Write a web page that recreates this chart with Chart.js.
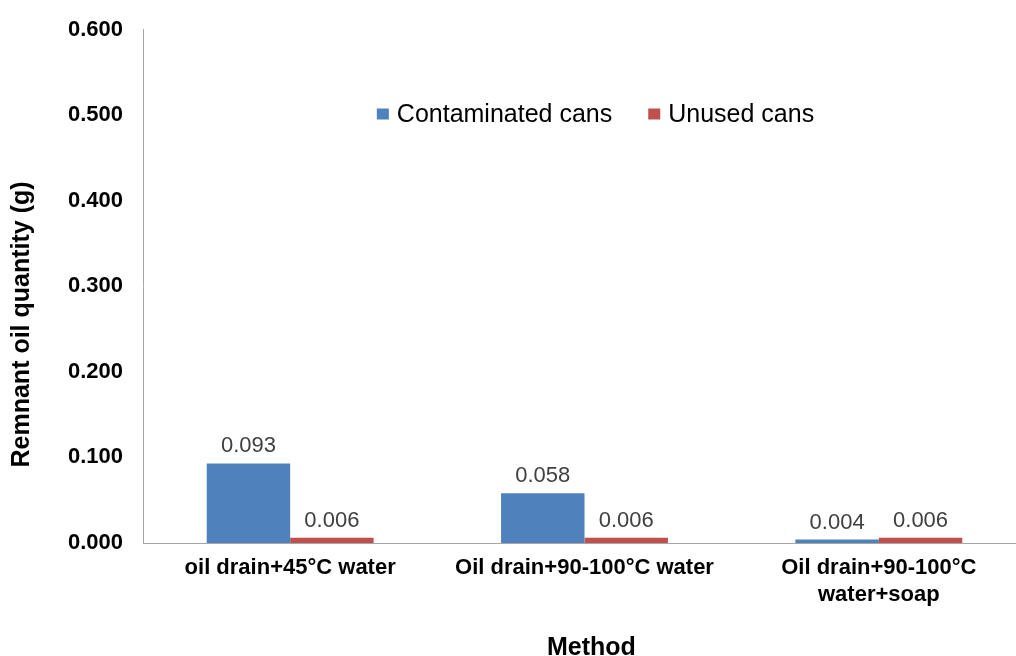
<!DOCTYPE html>
<html>
<head>
<meta charset="utf-8">
<script src="https://cdn.jsdelivr.net/npm/chart.js@4.4.1/dist/chart.umd.min.js"></script>
<style>
  html, body { margin: 0; padding: 0; background: #fff; overflow: hidden; width: 1016px; height: 656px; }
  #wrap { position: absolute; left: 0; top: 0; width: 1028px; height: 668px; }
</style>
</head>
<body>
<div id="wrap"><canvas id="chart" width="1028" height="668"></canvas></div>
<script>
// Cleaning methods on the category axis
const methods = [
  'oil drain+45°C water',
  'Oil drain+90-100°C water',
  ['Oil drain+90-100°C', 'water+soap']
];

// Remnant oil quantity (g) per method
const contaminatedCans = [0.093, 0.058, 0.004];
const unusedCans = [0.006, 0.006, 0.006];

const seriesNames = ['Contaminated cans', 'Unused cans'];
const yTickLabels = ['0.000', '0.100', '0.200', '0.300', '0.400', '0.500', '0.600'];

const FONT = '"Liberation Sans", Arial, sans-serif';
const BLUE = '#4F81BD';
const RED = '#C0504D';
const AXIS = '#A6A6A6';

// Value printed above each bar
const valueLabels = {
  id: 'valueLabels',
  afterDatasetsDraw(chart) {
    const ctx = chart.ctx;
    ctx.save();
    ctx.font = '22px ' + FONT;
    ctx.fillStyle = '#404040';
    ctx.textAlign = 'center';
    ctx.textBaseline = 'alphabetic';
    chart.data.datasets.forEach((ds, di) => {
      chart.getDatasetMeta(di).data.forEach((bar, i) => {
        ctx.fillText(ds.data[i].toFixed(3), bar.x, bar.y - 11);
      });
    });
    ctx.restore();
  }
};

// Legend drawn inside the plot area
const innerLegend = {
  id: 'innerLegend',
  afterDraw(chart) {
    const ctx = chart.ctx;
    const area = chart.chartArea;
    const box = 12, toText = 8, between = 36;
    ctx.save();
    ctx.font = '25px ' + FONT;
    const items = chart.data.datasets.map(ds => ({
      text: ds.label,
      color: ds.backgroundColor,
      w: box + toText + ctx.measureText(ds.label).width
    }));
    const total = items.reduce((s, it) => s + it.w, 0) + between * (items.length - 1);
    let x = (area.left + area.right) / 2 + 11 - total / 2;
    const baseline = area.top + 92;
    items.forEach(it => {
      ctx.fillStyle = it.color;
      ctx.fillRect(x, baseline - 13, box, 11);
      ctx.fillStyle = '#000';
      ctx.textAlign = 'left';
      ctx.textBaseline = 'alphabetic';
      ctx.fillText(it.text, x + box + toText, baseline);
      x += it.w + between;
    });
    ctx.restore();
  }
};

new Chart(document.getElementById('chart'), {
  type: 'bar',
  data: {
    labels: methods,
    datasets: [
      { label: seriesNames[0], data: contaminatedCans, backgroundColor: BLUE, borderWidth: 0 },
      { label: seriesNames[1], data: unusedCans, backgroundColor: RED, borderWidth: 0 }
    ]
  },
  options: {
    responsive: false,
    devicePixelRatio: 1,
    animation: false,
    events: [],
    layout: { padding: { top: 29.5, right: 2, bottom: 0, left: 0 } },
    datasets: { bar: { categoryPercentage: 0.567, barPercentage: 1.0 } },
    plugins: {
      legend: { display: false },
      tooltip: { enabled: false },
      title: { display: false }
    },
    scales: {
      x: {
        grid: { display: false, drawTicks: false },
        border: { display: true, color: AXIS, width: 1 },
        ticks: {
          font: { family: FONT, size: 22, weight: 'bold' },
          color: '#000',
          maxRotation: 0,
          minRotation: 0,
          autoSkip: false,
          padding: 12
        },
        title: {
          display: true,
          text: '  Method',
          font: { family: FONT, size: 25, weight: 'bold' },
          color: '#000',
          padding: { top: 0, bottom: 5 }
        },
        afterFit(scale) { scale.height = 125; }
      },
      y: {
        min: 0,
        max: 0.6,
        grid: { display: false, drawTicks: false },
        border: { display: true, color: AXIS, width: 1 },
        ticks: {
          stepSize: 0.1,
          font: { family: FONT, size: 22, weight: 'bold' },
          color: '#000',
          padding: 20,
          callback: (v, i) => yTickLabels[i]
        },
        title: {
          display: true,
          text: 'Remnant oil quantity (g)' + '           ',
          font: { family: FONT, size: 25, weight: 'bold' },
          color: '#000',
          padding: { top: 7, bottom: 0 }
        },
        afterFit(scale) {
          scale.width = 143;
          scale.paddingTop = 0;
          scale.paddingBottom = 0;
        }
      }
    }
  },
  plugins: [valueLabels, innerLegend]
});
</script>
</body>
</html>
